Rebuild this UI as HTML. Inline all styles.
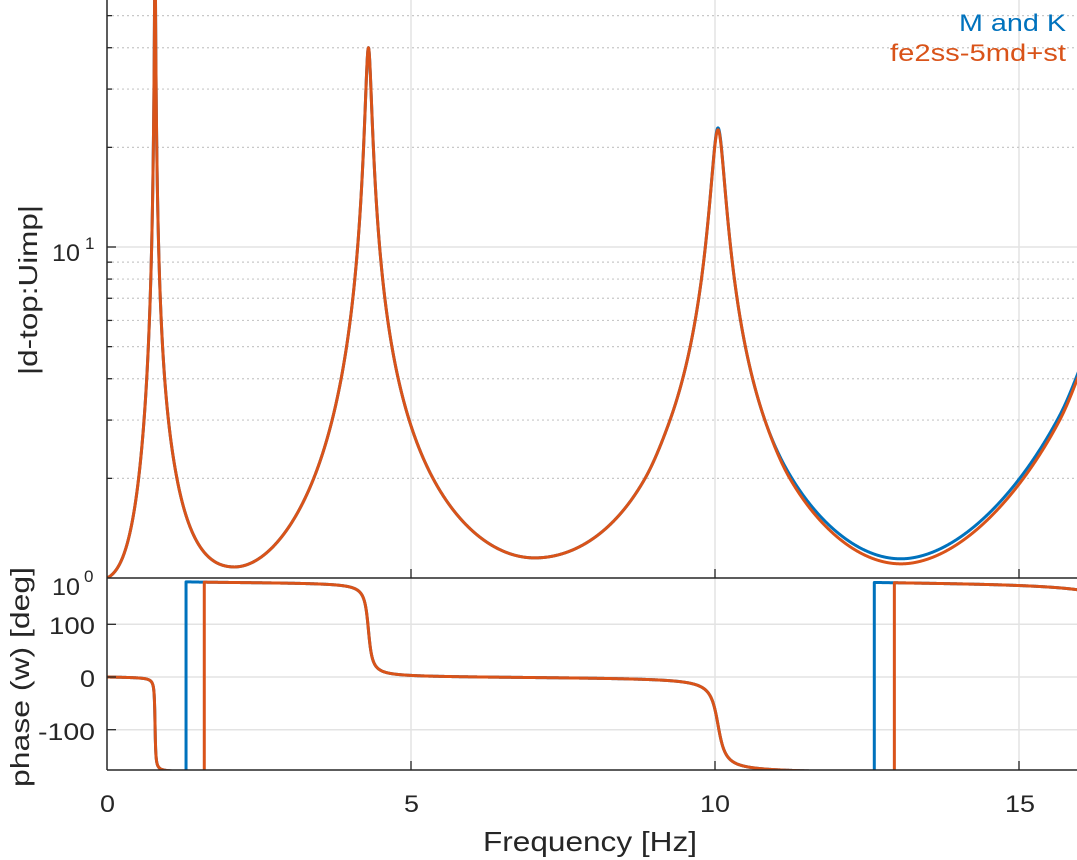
<!DOCTYPE html>
<html><head><meta charset="utf-8"><style>
html,body{margin:0;padding:0;background:#fff;width:1077px;height:860px;overflow:hidden}
svg text{font-family:"Liberation Sans",Arial,sans-serif;fill:#262626}
</style></head><body>
<svg id="s" width="1077" height="860" xmlns="http://www.w3.org/2000/svg">
<defs>
<clipPath id="c1"><rect x="107" y="0" width="970" height="578"/></clipPath>
<clipPath id="c2"><rect x="107" y="578" width="970" height="192"/></clipPath>
</defs>
<g id="grid"></g>
<g id="lines"></g>
<g id="axes"></g>
<text x="959" y="31" font-size="24" textLength="107" lengthAdjust="spacingAndGlyphs" style="fill:#0072BD">M and K</text>
<text x="890" y="61" font-size="24" textLength="176" lengthAdjust="spacingAndGlyphs" style="fill:#D95319">fe2ss-5md+st</text>
<text x="52" y="261" font-size="24" textLength="28" lengthAdjust="spacingAndGlyphs">10</text><text x="85" y="249" font-size="17">1</text>
<text x="52" y="595" font-size="24" textLength="28" lengthAdjust="spacingAndGlyphs">10</text><text x="84" y="582" font-size="17">0</text>
<text x="49" y="634" font-size="24" textLength="46" lengthAdjust="spacingAndGlyphs">100</text>
<text x="80" y="687" font-size="24" textLength="15" lengthAdjust="spacingAndGlyphs">0</text>
<text x="38" y="740" font-size="24" textLength="57" lengthAdjust="spacingAndGlyphs">-100</text>
<text x="100" y="812" font-size="24" textLength="15" lengthAdjust="spacingAndGlyphs">0</text>
<text x="404" y="812" font-size="24" textLength="15" lengthAdjust="spacingAndGlyphs">5</text>
<text x="700" y="812" font-size="24" textLength="30" lengthAdjust="spacingAndGlyphs">10</text>
<text x="1005" y="812" font-size="24" textLength="30" lengthAdjust="spacingAndGlyphs">15</text>
<text x="483" y="851" font-size="28" textLength="214" lengthAdjust="spacingAndGlyphs">Frequency [Hz]</text>
<text transform="translate(37,375) rotate(-90)" font-size="26" textLength="170" lengthAdjust="spacingAndGlyphs">|d-top:Uimp|</text>
<text transform="translate(29,787) rotate(-90)" font-size="26" textLength="220" lengthAdjust="spacingAndGlyphs">phase (w) [deg]</text>
</svg>
<script>
var NS="http://www.w3.org/2000/svg";
function el(p,t,a){var e=document.createElementNS(NS,t);for(var k in a)e.setAttribute(k,a[k]);p.appendChild(e);return e;}
var G=document.getElementById('grid'),L=document.getElementById('lines'),A=document.getElementById('axes');
function X(f){return 107+60.8*f;}
function YM(m){return 578-331*Math.log10(m);}
function YP(p){return 677-0.527*p;}
[411,715,1019].forEach(function(x){el(G,'line',{x1:x,y1:0,x2:x,y2:770,stroke:'#e3e3e3','stroke-width':1.5});});
el(G,'line',{x1:107,y1:247,x2:1077,y2:247,stroke:'#e3e3e3','stroke-width':1.5});
[2,3,4,5,6,7,8,9,20,30,40,50].forEach(function(v){var y=YM(v);
 el(G,'line',{x1:107,y1:y,x2:1077,y2:y,stroke:'#c8c8c8','stroke-width':1.2,'stroke-dasharray':'2,3'});
 el(A,'line',{x1:107,y1:y,x2:112,y2:y,stroke:'#262626','stroke-width':1.3});});
[100,0,-100].forEach(function(p){var y=YP(p);el(G,'line',{x1:107,y1:y,x2:1077,y2:y,stroke:'#e3e3e3','stroke-width':1.5});
 el(A,'line',{x1:107,y1:y,x2:116,y2:y,stroke:'#262626','stroke-width':1.3});});
el(A,'line',{x1:107,y1:247,x2:116,y2:247,stroke:'#262626','stroke-width':1.3});
el(A,'line',{x1:107,y1:0,x2:107,y2:770,stroke:'#262626','stroke-width':1.5});
el(A,'line',{x1:107,y1:578,x2:1077,y2:578,stroke:'#262626','stroke-width':1.5});
el(A,'line',{x1:107,y1:770,x2:1077,y2:770,stroke:'#262626','stroke-width':1.5});
[411,715,1019].forEach(function(x){el(A,'line',{x1:x,y1:578,x2:x,y2:569,stroke:'#262626','stroke-width':1.3});
 el(A,'line',{x1:x,y1:770,x2:x,y2:761,stroke:'#262626','stroke-width':1.3});});
var fk=[0.79,4.3,10.05,17];
function prodP(f,z){var p=1;for(var k=0;k<4;k++){var a=fk[k]*fk[k]-f*f,b=2*z[k]*fk[k]*f;p*=fk[k]*fk[k]/Math.sqrt(a*a+b*b);}return p;}
function interp(xs,ys,f){var n=xs.length;if(f<=xs[0])return ys[0];if(f>=xs[n-1])return ys[n-1];
 var i=0;while(f>xs[i+1])i++;
 function sl(j){if(j==0)return (ys[1]-ys[0])/(xs[1]-xs[0]);if(j==n-1)return (ys[n-1]-ys[n-2])/(xs[n-1]-xs[n-2]);
   return (ys[j+1]-ys[j-1])/(xs[j+1]-xs[j-1]);}
 var h=xs[i+1]-xs[i],t=(f-xs[i])/h,t2=t*t,t3=t2*t;
 return (2*t3-3*t2+1)*ys[i]+(t3-2*t2+t)*h*sl(i)+(-2*t3+3*t2)*ys[i+1]+(t3-t2)*h*sl(i+1);}
function build(anch,peaks){
 var z=[0.01,0.01,0.01,0.018];
 var xs=anch.map(function(a){return a[0];}),ys;
 function g(f){return Math.pow(10,interp(xs,ys,f));}
 for(var it=0;it<6;it++){
  ys=anch.map(function(a){return Math.log10(a[1])-Math.log10(prodP(a[0],z));});
  var nz=z.slice();
  for(var k=0;k<3;k++){var o=1;for(var j=0;j<4;j++){if(j==k)continue;var a=fk[j]*fk[j]-fk[k]*fk[k],b=2*z[j]*fk[j]*fk[k];o*=fk[j]*fk[j]/Math.sqrt(a*a+b*b);}
    nz[k]=g(fk[k])*o/(2*peaks[k]);}
  z=nz;
 }
 ys=anch.map(function(a){return Math.log10(a[1])-Math.log10(prodP(a[0],z));});
 return function(f){return g(f)*prodP(f,z);};
}
var baseA=[[0,1],[0.52,2],[1.15,2],[2.1,1.08],[3.40,2],[4.97,3],[7.04,1.15],[8.85,2.0],[9.26,3.0],[10.82,3.0]];
var magO=build(baseA.concat([[11.23,2.0],[13.24,1.11],[15.67,3.0],[16,4.18]]),[80,40,22.6]);
var magB=build(baseA.concat([[11.23,2.05],[13.24,1.15],[15.67,3.1],[16,4.3]]),[80,40,22.9]);
var zp=[0.012,0.011,0.009,0.018];
function phRaw(f){var s=0;for(var k=0;k<4;k++){s-=Math.atan2(2*zp[k]*fk[k]*f,fk[k]*fk[k]-f*f);}return s*180/Math.PI;}
function magPath(m){var d='';for(var i=0;i<=4000;i++){var f=16*i/4000;var y=YM(m(f));if(y<-50)y=-50;if(y>600)y=600;d+=(i?'L':'M')+X(f).toFixed(2)+','+y.toFixed(2);}return d;}
function phPath(w1,w2){var d='';var prev=null;for(var i=0;i<=3200;i++){var f=16*i/3200;var p=phRaw(f);if(f>=w1)p+=360;if(f>=w2)p+=360;
 var y=Math.max(580,Math.min(771,YP(p)));
 if(prev!==null && ((f>=w1&&prev<w1)||(f>=w2&&prev<w2))){d+='L'+X(f).toFixed(2)+','+Math.max(580,Math.min(771,YP(p-360))).toFixed(2);}
 d+=(i?'L':'M')+X(f).toFixed(2)+','+y.toFixed(2);prev=f;}return d;}
var g1=el(L,'g',{'clip-path':'url(#c1)'}),g2=el(L,'g',{'clip-path':'url(#c2)'});
el(g1,'path',{d:magPath(magB),fill:'none',stroke:'#0072BD','stroke-width':3,'stroke-linejoin':'round'});
el(g1,'path',{d:magPath(magO),fill:'none',stroke:'#D95319','stroke-width':3,'stroke-linejoin':'round'});
el(g2,'path',{d:phPath(1.3,12.62),fill:'none',stroke:'#0072BD','stroke-width':3,'stroke-linejoin':'round'});
el(g2,'path',{d:phPath(1.6,12.95),fill:'none',stroke:'#D95319','stroke-width':3,'stroke-linejoin':'round'});
</script>
</body></html>
